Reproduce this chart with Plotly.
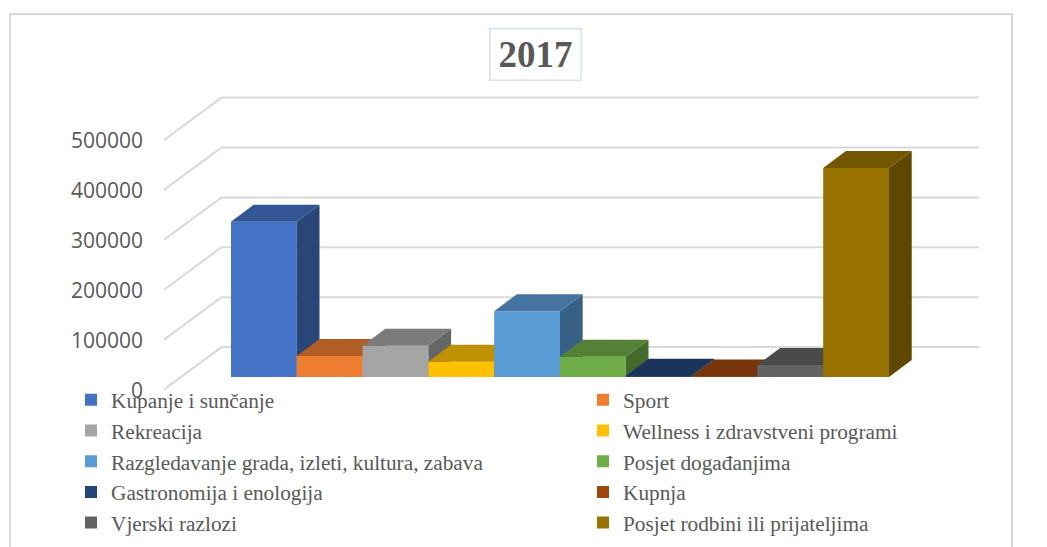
import plotly.graph_objects as go

categories = ["Kupanje i sunčanje", "Sport", "Rekreacija", "Wellness i zdravstveni programi",
              "Razgledavanje grada, izleti, kultura, zabava", "Posjet događanjima",
              "Gastronomija i enologija", "Kupnja", "Vjerski razlozi", "Posjet rodbini ili prijateljima"]
values = [311000, 42000, 62500, 30500, 132000, 40500, 2500, 1000, 24000, 419000]
colors = ["#4472C4", "#ED7D31", "#A5A5A5", "#FFC000", "#5B9BD5",
          "#70AD47", "#264478", "#9E480E", "#636363", "#997300"]
y_ticks = [0, 100000, 200000, 300000, 400000, 500000]

TEXT = "#595959"
GRID = "#D9D9D9"

# fake 3D: depth of a bar and of the wall, in axis units
BAR_DX, BAR_DY = 0.345, 34000
WALL_X0 = -1.518
WALL_DX, WALL_DY = 0.874, 85000
WALL_RIGHT = 10.868


def shade(hex_color, k):
    r, g, b = (int(hex_color[i:i + 2], 16) for i in (1, 3, 5))
    return f"rgb({int(r * k)},{int(g * k)},{int(b * k)})"


fig = go.Figure()

# walls, drawn on the primary axis that also carries the tick labels
wall_x, wall_y = [], []
for t in y_ticks:
    wall_x += [WALL_X0, WALL_X0 + WALL_DX, WALL_RIGHT, None]
    wall_y += [t + 2000, t + 2000 + WALL_DY, t + 2000 + WALL_DY, None]
fig.add_trace(go.Scatter(x=wall_x, y=wall_y, mode="lines", line=dict(color=GRID, width=2),
                         showlegend=False, hoverinfo="skip", yaxis="y"))

# bars go left to right so each front face hides what is behind it
for i, (name, v, c) in enumerate(zip(categories, values, colors)):
    left, right = i - 0.5, i + 0.5
    fig.add_trace(go.Scatter(
        x=[right, right + BAR_DX, right + BAR_DX, right, right],
        y=[0, BAR_DY, v + BAR_DY, v, 0],
        mode="lines", line=dict(width=0), fill="toself", fillcolor=shade(c, 0.62),
        showlegend=False, hoverinfo="skip", yaxis="y2", zorder=i))
    fig.add_trace(go.Scatter(
        x=[left, left + BAR_DX, right + BAR_DX, right, left],
        y=[v, v + BAR_DY, v + BAR_DY, v, v],
        mode="lines", line=dict(width=0), fill="toself", fillcolor=shade(c, 0.75),
        showlegend=False, hoverinfo="skip", yaxis="y2", zorder=i))
    fig.add_trace(go.Bar(
        x=[i], y=[v], width=1, name=name, marker=dict(color=c, line=dict(width=0)),
        yaxis="y2", zorder=i, legend="legend" if i % 2 == 0 else "legend2",
        legendgroup=f"g{i}"))

legend_font = dict(family="Liberation Serif", size=21.3, color=TEXT)
# the page body has an 8px margin, so the figure is 8px smaller than the window
fig.update_layout(
    width=1039, height=539,
    margin=dict(l=140, r=62, t=82, b=147, autoexpand=False),
    paper_bgcolor="white", plot_bgcolor="white",
    barmode="overlay",
    xaxis=dict(visible=False, range=[-1.7614, 10.959], fixedrange=True),
    yaxis=dict(range=[-19038, 602200], tickvals=y_ticks, tickformat="d",
               showgrid=False, zeroline=False, showline=False, ticks="", ticklabelstandoff=4,
               tickfont=dict(family="Open Sans", size=21, color=TEXT), fixedrange=True),
    yaxis2=dict(range=[-46092, 575150], overlaying="y", visible=False, fixedrange=True),
    legend=dict(xref="container", yref="container", x=72 / 1039, y=1 - 371.5 / 539,
                xanchor="left", yanchor="top", font=legend_font, tracegroupgap=0, indentation=-9,
                bgcolor="rgba(0,0,0,0)", itemclick=False, itemdoubleclick=False),
    legend2=dict(xref="container", yref="container", x=584 / 1039, y=1 - 371.5 / 539,
                 xanchor="left", yanchor="top", font=legend_font, tracegroupgap=0, indentation=-9,
                 bgcolor="rgba(0,0,0,0)", itemclick=False, itemdoubleclick=False),
    annotations=[dict(text="<b>2017</b>", xref="paper", yref="paper",
                      x=(535 - 148) / 837, y=(400 - 54.5) / 310, showarrow=False,
                      xanchor="center", yanchor="middle",
                      width=88, height=48, borderwidth=1.5, bordercolor="#D6E2F5",
                      font=dict(family="Liberation Serif", size=37, color=TEXT))],
    # chart frame, its bottom edge falls outside the page in the reference
    shapes=[dict(type="rect", xref="paper", yref="paper",
                 x0=(10 - 148) / 837, x1=(1012 - 148) / 837,
                 y0=(400 - 560) / 310, y1=(400 - 14) / 310,
                 line=dict(color=GRID, width=2), layer="below")],
)

fig.write_html("out.html")
